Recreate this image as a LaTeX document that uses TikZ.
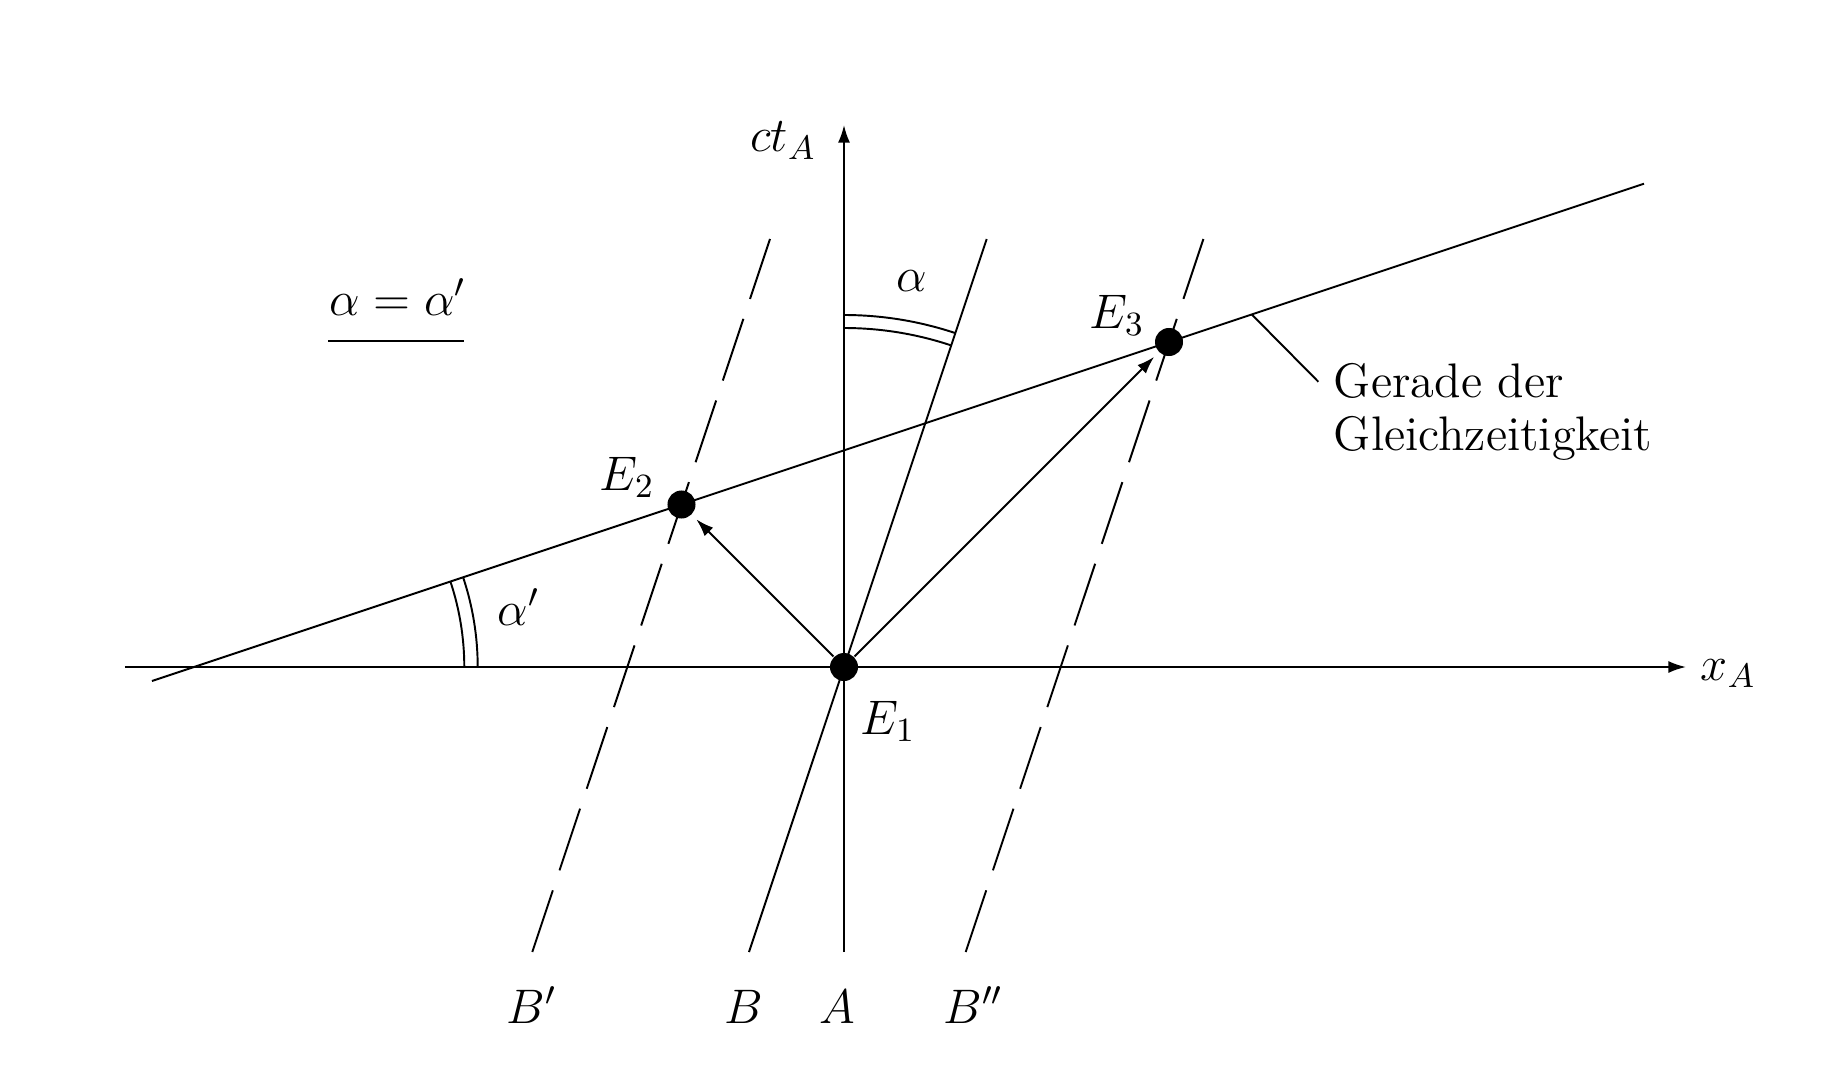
\RequirePackage{fix-cm}
\documentclass[tikz,border=0pt]{standalone}
\usetikzlibrary{arrows.meta}
\begin{document}
\begin{tikzpicture}[x=0.01cm,y=0.01cm, line width=0.55pt,
  every node/.style={font=\fontsize{13.8}{15.1}\selectfont},
  ev/.style={circle,fill=black,inner sep=0pt,minimum size=0.28cm},
  dashedline/.style={dash pattern=on 0.65cm off 0.21cm},
  axis/.style={-{Latex[length=5pt,width=3.4pt]}},
  ray/.style={-{Latex[length=5pt,width=3.4pt]}, shorten >=1.7pt},
  lbl/.style={inner sep=0pt}]
\useasboundingbox (-844,-408) rectangle (984,667);

% axes
\coordinate (xl) at (-719,0);
\coordinate (xr) at (842,0);
\coordinate (yb) at (0,-285);
\coordinate (yt) at (0,542);
\draw[axis] (xl) -- (xr);
\draw[axis] (yb) -- (yt);
\node[lbl, anchor=base west] (xlab) at (856,-13) {$x_A$};
\node[lbl, anchor=base east] (tlab) at (-27,515) {$ct_A$};

% world lines
\coordinate (Bb) at (-95,-285);
\coordinate (Bt) at (142.7,428);
\coordinate (B1b) at (-311.7,-285);
\coordinate (B1t) at (-74,428);
\coordinate (B2b) at (121.7,-285);
\coordinate (B2t) at (359.4,428);
\draw (Bb) -- (Bt);
\draw[dashedline] (B1b) -- (B1t);
\draw[dashedline] (B2b) -- (B2t);

\node[lbl, anchor=base west] (labB1) at (-338.5,-356) {$B'$};
\node[lbl, anchor=base west] (labB) at (-120.5,-356) {$B$};
\node[lbl, anchor=base west] (labA) at (-25.5,-356) {$A$};
\node[lbl, anchor=base west] (labB2) at (98.5,-356) {$B''$};

% line of simultaneity
\coordinate (S1) at (-692,-14);
\coordinate (S2) at (800,483.3);
\draw (S1) -- (S2);

% events
\node[ev] (E1) at (0,0) {};
\node[ev] (E2) at (-162.5,162.5) {};
\node[ev] (E3) at (325,325) {};
\node[lbl, anchor=base west] (lE1) at (16,-67) {$E_1$};
\node[lbl, anchor=base west] (lE2) at (-245,177) {$E_2$};
\node[lbl, anchor=base west] (lE3) at (245,338.7) {$E_3$};

\draw[ray] (E1) -- (E2);
\draw[ray] (E1) -- (E3);

% angle alpha
\draw (0,352) arc[start angle=90, end angle=71.57, radius=352];
\draw (0,339) arc[start angle=90, end angle=71.57, radius=339];
\node[lbl, anchor=base] (la) at (67.7,375.3) {$\alpha$};

% angle alpha'
\draw (-379.7,0) arc[start angle=0, end angle=18.43, radius=270.3];
\draw (-366.3,0) arc[start angle=0, end angle=18.43, radius=283.7];
\node[lbl, anchor=base west] (lap) at (-347.5,42) {$\alpha'$};

% alpha = alpha'
\node[lbl, anchor=base west] (eq) at (-515,352) {$\alpha=\alpha'$};
\coordinate (u1) at (-515.7,326.3);
\coordinate (u2) at (-380,326.3);
\draw (u1) -- (u2);

% annotation
\coordinate (L1) at (407.7,352.6);
\coordinate (L2) at (474.3,285.3);
\draw (L1) -- (L2);
\node[lbl, anchor=west, align=left] (gl) at (489,255.5) {Gerade der\\Gleichzeitigkeit};
\end{tikzpicture}
\end{document}
